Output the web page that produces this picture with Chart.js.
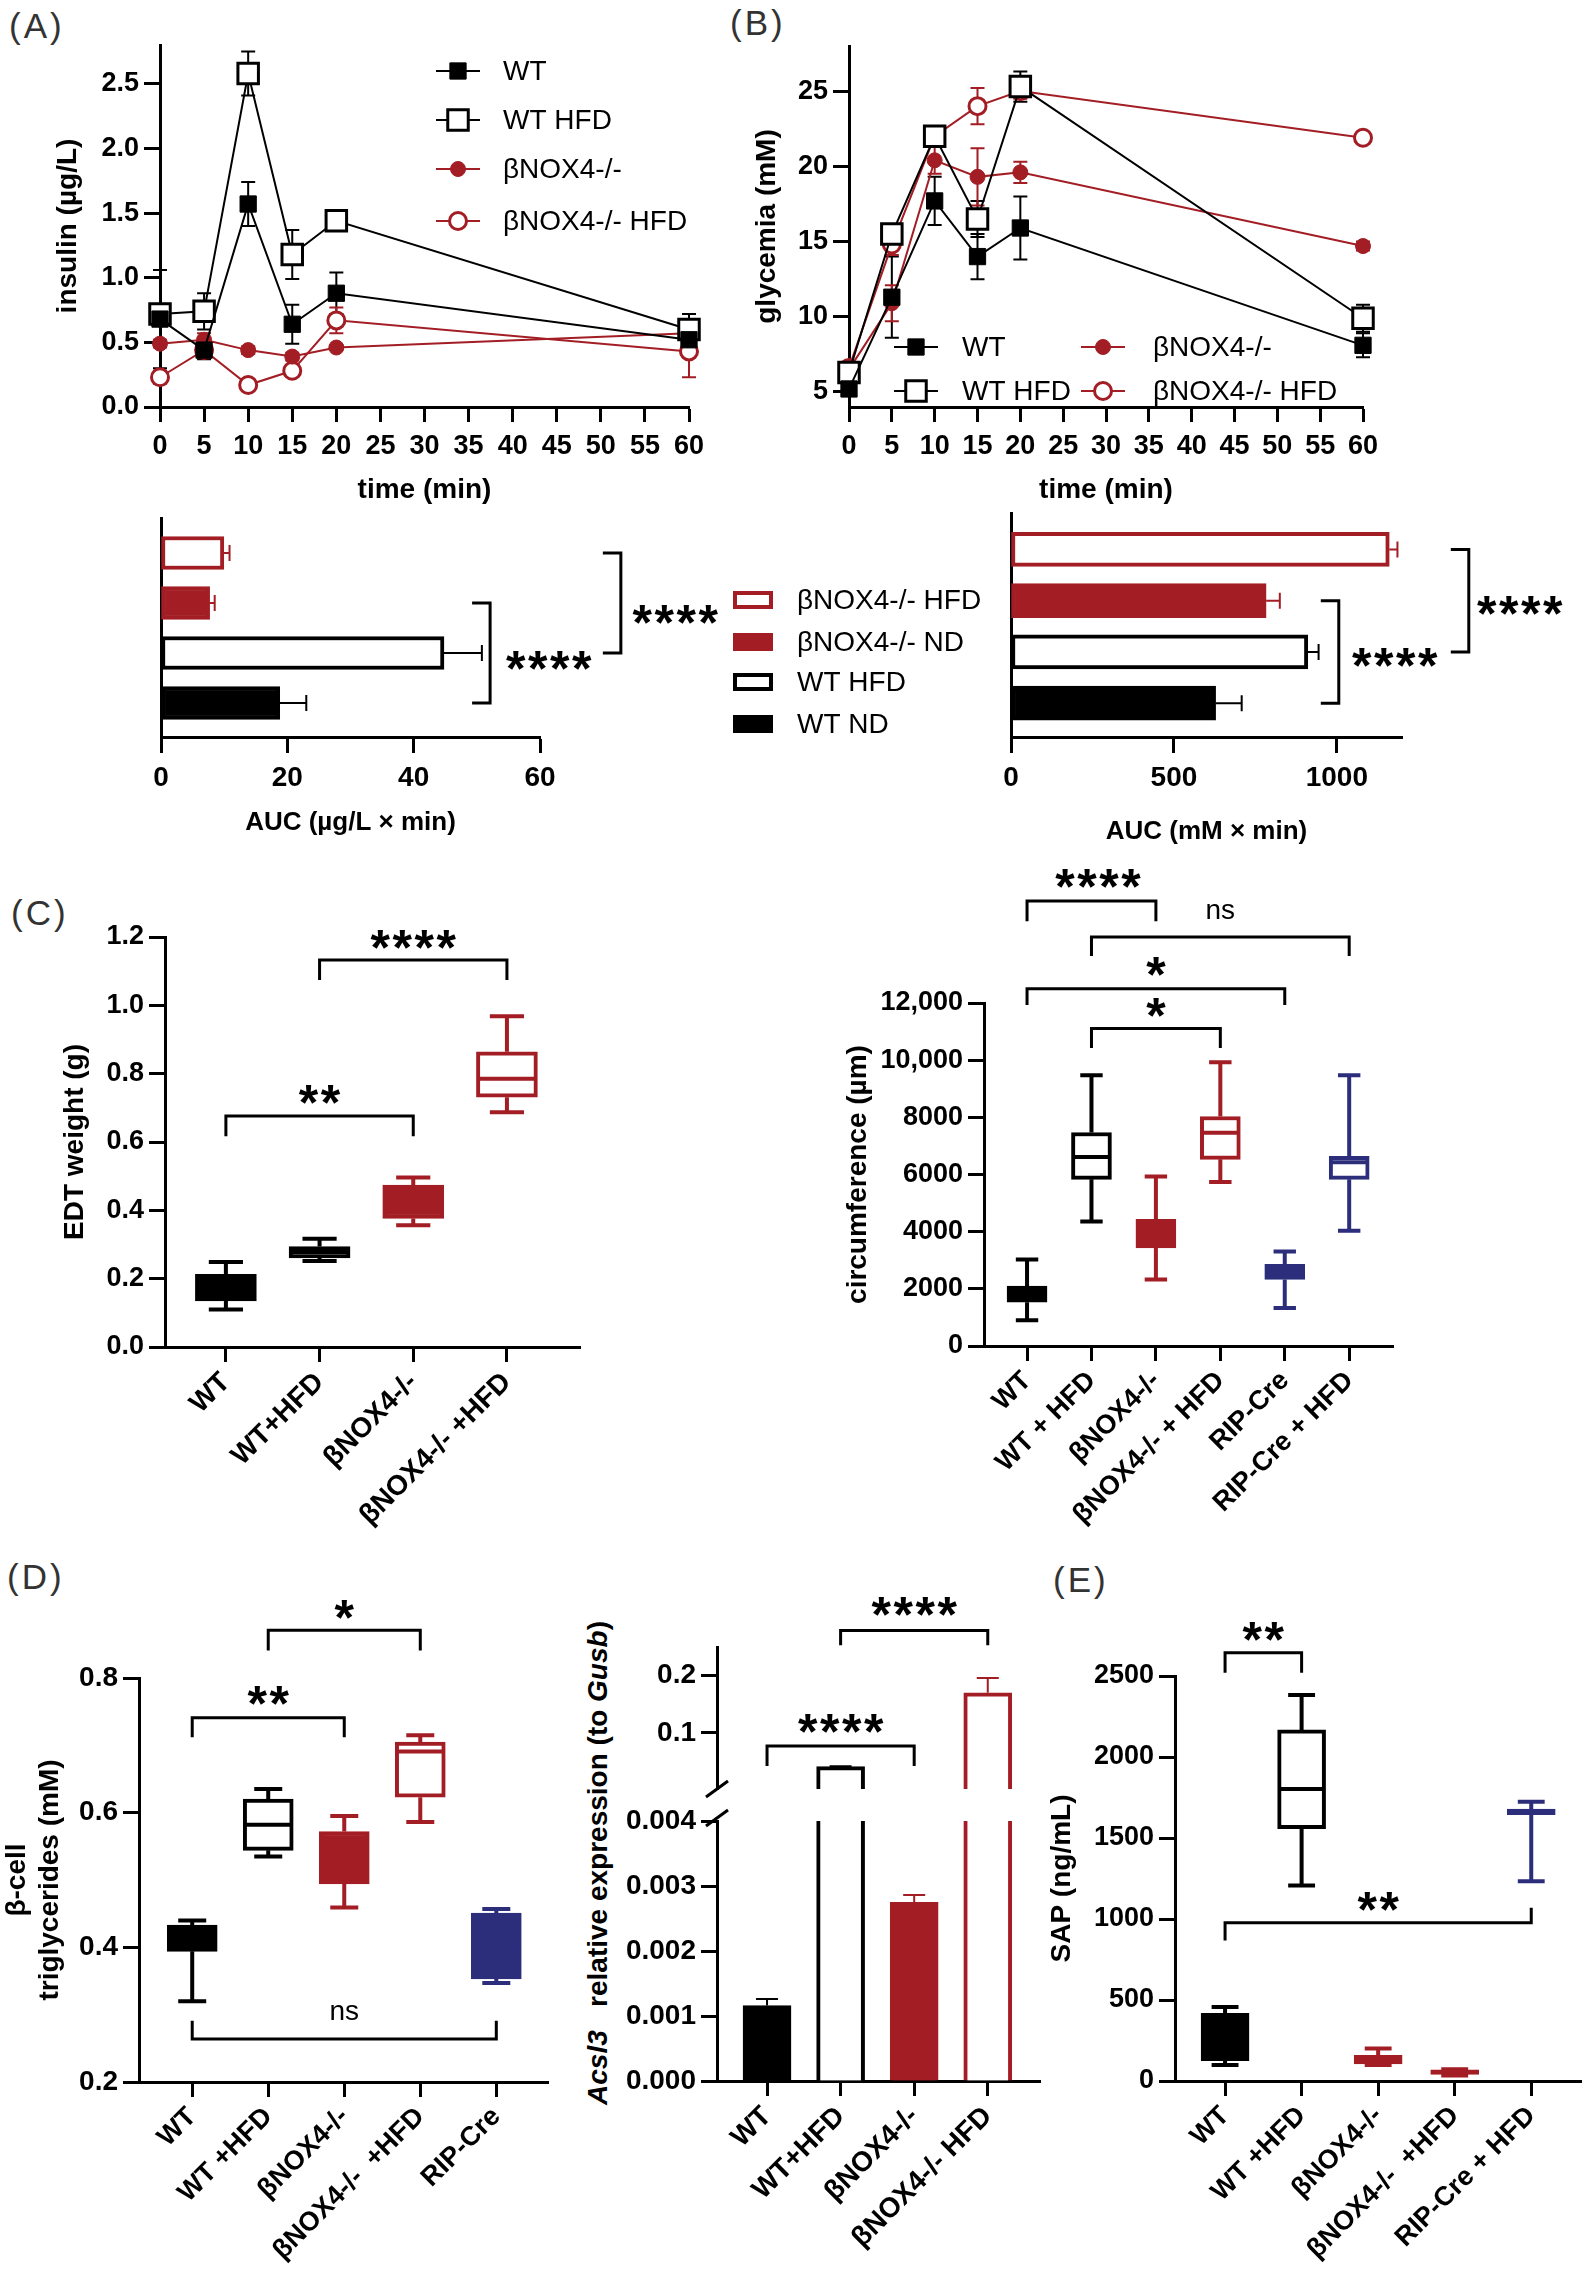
<!DOCTYPE html>
<html>
<head>
<meta charset="utf-8">
<script src="https://cdn.jsdelivr.net/npm/chart.js@4.4.1/dist/chart.umd.min.js"></script>
<style>
  html, body { margin: 0; padding: 0; background: #fff; }
  #stage { position: relative; width: 1584px; height: 2275px; overflow: hidden; font-family: 'Liberation Sans', Arial, sans-serif; }
  #stage canvas { position: absolute; }
  .panel { position: absolute; font-size: 35px; line-height: 40px; color: #333; letter-spacing: 3px; }
  .ytitle { position: absolute; font-weight: bold; font-size: 28px; white-space: nowrap; transform: translate(-50%, -50%) rotate(-90deg); }
</style>
</head>
<body>
<div id="stage">
  <div class="panel" style="left:9px;top:6px">(A)</div>
  <div class="panel" style="left:730px;top:3px">(B)</div>
  <div class="panel" style="left:11px;top:893px">(C)</div>
  <div class="panel" style="left:7px;top:1557px">(D)</div>
  <div class="panel" style="left:1053px;top:1560px">(E)</div>
  <div class="ytitle" style="left:598px;top:1863px"><i>Acsl3</i>&nbsp;&nbsp; relative expression (to <i>Gusb</i>)</div>
</div>
<script>
// ---- data ----
const timePoints = [0, 5, 10, 15, 20, 60];
const timeTicks = [0, 5, 10, 15, 20, 25, 30, 35, 40, 45, 50, 55, 60];
const lineNames = ['WT', 'WT HFD', 'βNOX4-/-', 'βNOX4-/- HFD'];

// (A) insulin (µg/L), mean and error
const insWT = [0.68, 0.44, 1.57, 0.64, 0.88, 0.52];
const insWTErr = [0.38, 0.07, 0.17, 0.15, 0.16, 0.05];
const insWTHfd = [0.72, 0.74, 2.58, 1.18, 1.44, 0.60];
const insWTHfdErr = [0.05, 0.14, 0.17, 0.19, 0.03, 0.12];
const insKO = [0.49, 0.52, 0.44, 0.39, 0.46, 0.57];
const insKOErr = [0.03, 0.05, 0.03, 0.03, 0.02, 0.04];
const insKOHfd = [0.23, 0.44, 0.17, 0.28, 0.67, 0.43];
const insKOHfdErr = [0.05, 0.05, 0.03, 0.04, 0.10, 0.20];
const insTicks = [0, 0.5, 1, 1.5, 2, 2.5];

// (B) glycemia (mM)
const gluWT = [5.2, 11.3, 17.7, 14.0, 15.9, 8.1];
const gluWTErr = [0.4, 2.7, 1.6, 1.5, 2.1, 0.8];
const gluWTHfd = [6.3, 15.5, 22.0, 16.5, 25.3, 9.9];
const gluWTHfdErr = [0.3, 0.6, 0.5, 1.2, 1.0, 0.9];
const gluKO = [6.5, 10.9, 20.4, 19.3, 19.6, 14.7];
const gluKOErr = [0.4, 1.2, 0.9, 1.9, 0.7, 0.3];
const gluKOHfd = [6.6, 14.8, 22.0, 24.0, 25.0, 21.9];
const gluKOHfdErr = [0.3, 0.7, 0.4, 1.2, 0.5, 0.3];
const gluTicks = [5, 10, 15, 20, 25];

// AUC bars (top to bottom)
const aucGroups = ['βNOX4-/- HFD', 'βNOX4-/- ND', 'WT HFD', 'WT ND'];
const insAuc = [9.95, 7.7, 44.8, 18.8];
const insAucErr = [0.9, 0.8, 6.0, 4.2];
const insAucTicks = [0, 20, 40, 60];
const gluAuc = [1161, 783, 911, 628];
const gluAucErr = [25, 42, 33, 80];
const gluAucTicks = [0, 500, 1000];

// (C) EDT weight (g): whisker min, Q1, median, Q3, whisker max
const edtGroups = ['WT', 'WT+HFD', 'βNOX4-/-', 'βNOX4-/- +HFD'];
const edtMin = [0.110, 0.252, 0.356, 0.687];
const edtQ1 = [0.135, 0.261, 0.376, 0.731];
const edtMed = [0.170, 0.278, 0.420, 0.785];
const edtQ3 = [0.213, 0.294, 0.474, 0.864];
const edtMax = [0.249, 0.317, 0.496, 0.968];
const edtTicks = [0, 0.2, 0.4, 0.6, 0.8, 1.0, 1.2];

// (C) circumference (µm)
const circGroups = ['WT', 'WT + HFD', 'βNOX4-/-', 'βNOX4-/- + HFD', 'RIP-Cre', 'RIP-Cre + HFD'];
const circMin = [900, 4360, 2330, 5740, 1330, 4030];
const circQ1 = [1530, 5830, 3430, 6530, 2330, 5830];
const circMed = [1800, 6610, 3800, 7460, 2600, 6430];
const circQ3 = [2100, 7470, 4430, 8030, 2860, 6640];
const circMax = [3030, 9470, 5930, 9930, 3310, 9470];
const circTicks = [0, 2000, 4000, 6000, 8000, 10000, 12000];
const circTickLabels = ['0', '2000', '4000', '6000', '8000', '10,000', '12,000'];

// (D) beta-cell triglycerides (mM)
const tgGroups = ['WT', 'WT +HFD', 'βNOX4-/-', 'βNOX4-/-  +HFD', 'RIP-Cre'];
const tgMin = [0.320, 0.535, 0.459, 0.586, 0.347];
const tgQ1 = [0.394, 0.544, 0.494, 0.623, 0.353];
const tgMed = [0.410, 0.582, 0.530, 0.691, 0.400];
const tgQ3 = [0.433, 0.620, 0.572, 0.705, 0.451];
const tgMax = [0.440, 0.635, 0.595, 0.715, 0.457];
const tgTicks = [0.2, 0.4, 0.6, 0.8];

// (D) Acsl3 expression
const acslGroups = ['WT', 'WT+HFD', 'βNOX4-/-', 'βNOX4-/- HFD'];
const acslMean = [0.00116, 0.041, 0.00275, 0.170];
const acslErr = [0.0001, 0.0008, 0.00011, 0.026];
const acslLowTicks = [0, 0.001, 0.002, 0.003, 0.004];
const acslHighTicks = [0.1, 0.2];

// (E) SAP (ng/mL)
const sapGroups = ['WT', 'WT +HFD', 'βNOX4-/-', 'βNOX4-/-  +HFD', 'RIP-Cre + HFD'];
const sapMin = [98, 1207, 98, 34, 1233];
const sapQ1 = [126, 1557, 106, 40, 1644];
const sapMed = [250, 1802, 140, 55, 1658];
const sapQ3 = [417, 2167, 158, 69, 1678];
const sapMax = [457, 2382, 201, 72, 1724];
const sapTicks = [0, 500, 1000, 1500, 2000, 2500];

// significance marks
const insAucSig = [{ a: 1, b: 3, x: 52.1, text: '****', tx: 61.4, ty: 2.1 }, { a: 0, b: 2, x: 72.8, text: '****', tx: 81.4, ty: 1.18 }];
const gluAucSig = [{ a: 1, b: 3, x: 1006, text: '****', tx: 1178, ty: 2.06 }, { a: 0, b: 2, x: 1405, text: '****', tx: 1561, ty: 1.04 }];
const edtSig = [{ a: 0, b: 2, y: 0.676, endA: 0.617, text: '**', ty: 0.746 }, { a: 1, b: 3, y: 1.133, endA: 1.074, text: '****', ty: 1.2 }];
const circSig = [
  { a: 0, b: 2, y: 15570, endA: 14860, text: '****', ty: 16430, tx: 1.1 },
  { a: 1, b: 5, y: 14310, endA: 13640, text: 'ns', ty: 15210 },
  { a: 0, b: 4, y: 12500, endA: 11930, text: '*', ty: 13360 },
  { a: 1, b: 3, y: 11110, endA: 10430, text: '*', ty: 11930 }
];
const tgSig = [
  { a: 0, b: 2, y: 0.741, endA: 0.712, text: '**', ty: 0.777 },
  { a: 1, b: 3, y: 0.871, endA: 0.841, text: '*', ty: 0.905 },
  { a: 0, b: 4, y: 0.264, endA: 0.291, text: 'ns', ty: 0.303 }
];
const acslSig = [{ a: 0, b: 2, y: 0.0772, endA: 0.042, text: '****', ty: 0.121 }, { a: 1, b: 3, y: 0.279, endA: 0.253, text: '****', ty: 0.325 }];
const sapSig = [{ a: 0, b: 1, y: 2644, endA: 2520, text: '**', ty: 2793 }, { a: 0, b: 4, y: 977, endA: 868, endB: 1069, text: '**', ty: 1126 }];

// ---- styles ----
const BLACK = '#000000', RED = '#a31d24', BLUE = '#2c2e7c', WHITE = '#ffffff';
const FONT = "'Liberation Sans', Arial, Helvetica, sans-serif";
const BORDER = { display: true, width: 3, color: BLACK };

Chart.defaults.font.family = FONT;
Chart.defaults.color = BLACK;
Chart.defaults.animation = false;
Chart.defaults.events = [];
Chart.defaults.plugins.legend.display = false;
Chart.defaults.plugins.tooltip.enabled = false;

const stage = document.getElementById('stage');

function addCanvas(box) {
  const c = document.createElement('canvas');
  c.width = box[2] - box[0];
  c.height = box[3] - box[1];
  c.style.left = box[0] + 'px';
  c.style.top = box[1] + 'px';
  stage.appendChild(c);
  return c;
}

function pad(box, area, bottom) {
  return { left: 0, top: area[1] - box[1], right: box[2] - area[2], bottom: bottom || 0 };
}

function tickGrid(len) {
  return { display: true, drawOnChartArea: false, drawTicks: true, tickLength: len, tickWidth: 3, tickColor: BLACK, offset: false };
}

function fixedTicks(values) {
  return s => { s.ticks = values.map(v => ({ value: v })); };
}

function yValue(o) {
  return {
    type: 'linear', min: o.min, max: o.max, offset: false,
    afterBuildTicks: fixedTicks(o.ticks),
    afterFit: s => { s.width = o.area[0] - o.box[0]; },
    ticks: { callback: (v, i) => o.labels[i], font: { size: o.font || 27, weight: 'bold' }, padding: 5, autoSkip: false },
    grid: tickGrid(16), border: BORDER,
    title: o.title
      ? { display: true, text: o.title, font: { size: o.titleSize || 28, weight: 'bold' }, padding: { top: o.titlePad, bottom: 0 } }
      : { display: false }
  };
}

function xValue(o) {
  return {
    type: 'linear', min: o.min, max: o.max, offset: false,
    afterBuildTicks: fixedTicks(o.ticks),
    afterFit: s => { s.height = o.box[3] - o.area[3]; },
    ticks: { callback: (v, i) => o.labels[i], font: { size: o.font || 27, weight: 'bold' }, padding: 8, autoSkip: false, maxRotation: 0, minRotation: 0 },
    grid: tickGrid(o.tick || 15), border: BORDER,
    title: { display: true, text: o.title, font: { size: o.titleSize || 28, weight: 'bold' }, padding: { top: 0, bottom: o.titlePad } }
  };
}

function xGroups(groups, range, box, area, size) {
  return {
    type: 'linear', min: range[0], max: range[1], offset: false,
    afterBuildTicks: fixedTicks(groups.map((g, i) => i)),
    afterFit: s => { s.height = box[3] - area[3]; },
    ticks: { callback: v => groups[v], autoSkip: false, minRotation: 45, maxRotation: 45, padding: 4, font: { size: size || 28, weight: 'bold' } },
    grid: tickGrid(15), border: BORDER
  };
}

function fix(d) { return v => v.toFixed(d); }

// ---- plugins ----
const errorBars = {
  id: 'errorBars',
  beforeDatasetsDraw(chart) {
    const ctx = chart.ctx, area = chart.chartArea;
    ctx.save();
    ctx.beginPath();
    ctx.rect(area.left - 40, area.top - 1, area.right - area.left + 400, area.bottom - area.top + 2);
    ctx.clip();
    chart.data.datasets.forEach((ds, di) => {
      if (!ds.errors) return;
      const meta = chart.getDatasetMeta(di);
      const vs = meta.vScale, horiz = vs.isHorizontal();
      meta.data.forEach((el, i) => {
        const p = meta.controller.getParsed(i);
        const v = p[vs.axis], e = ds.errors[i];
        if (v == null || isNaN(v) || e == null) return;
        const a = vs.getPixelForValue(ds.errorUp ? v : v - e), b = vs.getPixelForValue(v + e);
        const c = horiz ? el.y : el.x, w = ds.errorCap || 7;
        ctx.strokeStyle = Array.isArray(ds.borderColor) ? ds.borderColor[i] : ds.borderColor;
        ctx.lineWidth = 2;
        ctx.beginPath();
        if (horiz) {
          ctx.moveTo(a, c); ctx.lineTo(b, c);
          ctx.moveTo(b, c - w); ctx.lineTo(b, c + w);
        } else {
          ctx.moveTo(c, a); ctx.lineTo(c, b);
          ctx.moveTo(c - w, b); ctx.lineTo(c + w, b);
          if (!ds.errorUp) { ctx.moveTo(c - w, a); ctx.lineTo(c + w, a); }
        }
        ctx.stroke();
      });
    });
    ctx.restore();
  }
};

const whiskers = {
  id: 'whiskers',
  afterDatasetsDraw(chart) {
    const ctx = chart.ctx, ys = chart.scales.y;
    chart.data.datasets.forEach((ds, di) => {
      if (!ds.median) return;
      const meta = chart.getDatasetMeta(di);
      meta.data.forEach((el, i) => {
        const x = el.x, half = el.width / 2, cap = el.width * 0.28;
        const pMin = ys.getPixelForValue(ds.whiskerMin[i]), pMax = ys.getPixelForValue(ds.whiskerMax[i]);
        const pQ1 = ys.getPixelForValue(ds.data[i].y[0]), pQ3 = ys.getPixelForValue(ds.data[i].y[1]);
        const pMed = ys.getPixelForValue(ds.median[i]);
        ctx.save();
        ctx.strokeStyle = ds.borderColor[i];
        ctx.lineWidth = 4;
        ctx.beginPath();
        ctx.moveTo(x, pQ3); ctx.lineTo(x, pMax);
        ctx.moveTo(x - cap, pMax); ctx.lineTo(x + cap, pMax);
        ctx.moveTo(x, pQ1); ctx.lineTo(x, pMin);
        ctx.moveTo(x - cap, pMin); ctx.lineTo(x + cap, pMin);
        ctx.moveTo(x - half + 2, pMed); ctx.lineTo(x + half - 2, pMed);
        ctx.stroke();
        ctx.restore();
      });
    });
  }
};

function drawSig(ctx, text, cx, cy) {
  ctx.save();
  ctx.fillStyle = BLACK;
  ctx.textAlign = 'center';
  if (text[0] === '*') {
    ctx.font = 'bold 50px ' + FONT;
    ctx.textBaseline = 'alphabetic';
    const n = text.length, step = 22;
    for (let k = 0; k < n; k++) ctx.fillText('*', cx + (k - (n - 1) / 2) * step, cy + 28);
  } else {
    ctx.font = '28px ' + FONT;
    ctx.textBaseline = 'middle';
    ctx.fillText(text, cx, cy);
  }
  ctx.restore();
}

// brackets: vertical charts use a/b as group index, horizontal ones as bar index
function brackets(items, horizontal) {
  return {
    id: 'brackets',
    afterDraw(chart) {
      const ctx = chart.ctx, xs = chart.scales.x, ys = chart.scales.y;
      ctx.save();
      ctx.strokeStyle = BLACK;
      ctx.lineWidth = 3;
      items.forEach(b => {
        ctx.beginPath();
        if (horizontal) {
          const x = xs.getPixelForValue(b.x), y1 = ys.getPixelForValue(b.a), y2 = ys.getPixelForValue(b.b);
          ctx.moveTo(x - 18, y1); ctx.lineTo(x, y1); ctx.lineTo(x, y2); ctx.lineTo(x - 18, y2);
          ctx.stroke();
          drawSig(ctx, b.text, xs.getPixelForValue(b.tx), ys.getPixelForValue(b.ty));
        } else {
          const x1 = xs.getPixelForValue(b.a), x2 = xs.getPixelForValue(b.b), y = ys.getPixelForValue(b.y);
          ctx.moveTo(x1, ys.getPixelForValue(b.endA));
          ctx.lineTo(x1, y); ctx.lineTo(x2, y);
          ctx.lineTo(x2, ys.getPixelForValue(b.endB != null ? b.endB : b.endA));
          ctx.stroke();
          const tx = b.tx != null ? b.tx : (b.a + b.b) / 2;
          drawSig(ctx, b.text, xs.getPixelForValue(tx), ys.getPixelForValue(b.ty));
        }
      });
      ctx.restore();
    }
  };
}

function drawMarker(ctx, ds, x, y) {
  const r = ds.pointRadius;
  ctx.beginPath();
  if (ds.pointStyle === 'rect') {
    const h = Math.SQRT1_2 * r;
    ctx.rect(x - h, y - h, 2 * h, 2 * h);
  } else {
    ctx.arc(x, y, r, 0, Math.PI * 2);
  }
  ctx.fillStyle = ds.pointBackgroundColor;
  ctx.fill();
  ctx.lineWidth = ds.pointBorderWidth;
  ctx.strokeStyle = ds.pointBorderColor;
  ctx.stroke();
}

// spots in page coordinates: [marker x, marker y, text x]
function lineLegend(box, spots) {
  return {
    id: 'lineLegend',
    afterDraw(chart) {
      const ctx = chart.ctx;
      chart.data.datasets.forEach((ds, i) => {
        const x = spots[i][0] - box[0], y = spots[i][1] - box[1];
        ctx.save();
        ctx.strokeStyle = ds.borderColor;
        ctx.lineWidth = 2;
        ctx.beginPath(); ctx.moveTo(x - 22, y); ctx.lineTo(x + 22, y); ctx.stroke();
        drawMarker(ctx, ds, x, y);
        ctx.fillStyle = BLACK;
        ctx.font = '28px ' + FONT;
        ctx.textBaseline = 'middle';
        ctx.textAlign = 'left';
        ctx.fillText(ds.label, spots[i][2] - box[0], y + 1);
        ctx.restore();
      });
    }
  };
}

function aucLegend(box, rows) {
  return {
    id: 'aucLegend',
    afterDraw(chart) {
      const ctx = chart.ctx, ds = chart.data.datasets[0];
      aucGroups.forEach((g, i) => {
        const x = 733 - box[0], y = rows[i] - box[1];
        ctx.save();
        ctx.fillStyle = ds.borderColor[i];
        ctx.fillRect(x, y - 9, 40, 18);
        if (ds.backgroundColor[i] === WHITE) {
          ctx.fillStyle = WHITE;
          ctx.fillRect(x + 4, y - 5, 32, 10);
        }
        ctx.fillStyle = BLACK;
        ctx.font = '28px ' + FONT;
        ctx.textBaseline = 'middle';
        ctx.fillText(g, 797 - box[0], y + 1);
        ctx.restore();
      });
    }
  };
}

function series(label, values, errs, color, style, filled) {
  const sq = style === 'rect';
  return {
    label: label,
    data: timePoints.map((t, i) => ({ x: t, y: values[i] })),
    errors: errs,
    clip: false,
    borderColor: color, borderWidth: 2,
    pointStyle: style,
    pointRadius: sq ? (filled ? 11.5 : 14.5) : (filled ? 7.5 : 8.5),
    pointBorderWidth: filled ? 1 : 3,
    pointBackgroundColor: filled ? color : WHITE,
    pointBorderColor: color,
    fill: false, tension: 0
  };
}

function boxSet(groups, mins, q1, med, q3, maxs, fills, lines, width) {
  return {
    data: groups.map((g, i) => ({ x: i, y: [q1[i], q3[i]] })),
    whiskerMin: mins, whiskerMax: maxs, median: med,
    backgroundColor: fills, borderColor: lines,
    borderWidth: 4, borderSkipped: false, barThickness: width
  };
}

// ---- (A) insulin time course ----
const boxA = [20, 20, 760, 520], areaA = [160, 45, 689, 407];
new Chart(addCanvas(boxA), {
  type: 'line',
  data: { datasets: [
    series(lineNames[0], insWT, insWTErr, BLACK, 'rect', true),
    series(lineNames[1], insWTHfd, insWTHfdErr, BLACK, 'rect', false),
    series(lineNames[2], insKO, insKOErr, RED, 'circle', true),
    series(lineNames[3], insKOHfd, insKOHfdErr, RED, 'circle', false)
  ] },
  options: {
    responsive: false,
    layout: { padding: pad(boxA, areaA) },
    scales: {
      x: xValue({ min: 0, max: 60, ticks: timeTicks, labels: timeTicks.map(String), box: boxA, area: areaA, title: 'time (min)', titlePad: 13 }),
      y: yValue({ min: 0, max: 2.8, ticks: insTicks, labels: insTicks.map(fix(1)), box: boxA, area: areaA, font: 27, title: 'insulin (µg/L)', titlePad: 31 })
    }
  },
  plugins: [errorBars, lineLegend(boxA, [[458, 71, 503], [458, 120, 503], [458, 169, 503], [458, 221, 503]])]
});

// ---- (B) glycemia time course ----
const boxB = [720, 20, 1440, 520], areaB = [849, 46, 1363, 407];
new Chart(addCanvas(boxB), {
  type: 'line',
  data: { datasets: [
    series(lineNames[0], gluWT, gluWTErr, BLACK, 'rect', true),
    series(lineNames[1], gluWTHfd, gluWTHfdErr, BLACK, 'rect', false),
    series(lineNames[2], gluKO, gluKOErr, RED, 'circle', true),
    series(lineNames[3], gluKOHfd, gluKOHfdErr, RED, 'circle', false)
  ] },
  options: {
    responsive: false,
    layout: { padding: pad(boxB, areaB) },
    scales: {
      x: xValue({ min: 0, max: 60, ticks: timeTicks, labels: timeTicks.map(String), box: boxB, area: areaB, title: 'time (min)', titlePad: 13 }),
      y: yValue({ min: 4, max: 28, ticks: gluTicks, labels: gluTicks.map(String), box: boxB, area: areaB, font: 27, title: 'glycemia (mM)', titlePad: 30 })
    }
  },
  plugins: [errorBars, lineLegend(boxB, [[916, 347, 962], [916, 391, 962], [1103, 347, 1153], [1103, 391, 1153]])]
});

// ---- AUC bars ----
const aucFill = [WHITE, RED, WHITE, BLACK];
const aucLine = [RED, RED, BLACK, BLACK];

const boxIA = [20, 490, 980, 870], areaIA = [161, 518, 540, 737];
new Chart(addCanvas(boxIA), {
  type: 'bar',
  data: { datasets: [{
    data: insAuc.map((v, i) => ({ x: v, y: i })),
    errors: insAucErr, errorUp: true, errorCap: 8,
    backgroundColor: aucFill, borderColor: aucLine, borderWidth: 4, borderSkipped: false, barThickness: 33
  }] },
  options: {
    indexAxis: 'y', responsive: false,
    layout: { padding: pad(boxIA, areaIA) },
    scales: {
      x: xValue({ min: 0, max: 60, ticks: insAucTicks, labels: insAucTicks.map(String), box: boxIA, area: areaIA, tick: 16, font: 28, title: 'AUC (µg/L × min)', titleSize: 26, titlePad: 32 }),
      y: { type: 'linear', reverse: true, offset: false, min: -0.7, max: 3.68, afterFit: s => { s.width = areaIA[0] - boxIA[0]; },
           ticks: { display: false }, grid: { display: false, offset: false }, border: BORDER }
    }
  },
  plugins: [errorBars, brackets(insAucSig, true), aucLegend(boxIA, [600, 642, 682, 724])]
});

const boxGA = [985, 490, 1584, 870], areaGA = [1011, 513, 1402, 737];
new Chart(addCanvas(boxGA), {
  type: 'bar',
  data: { datasets: [{
    data: gluAuc.map((v, i) => ({ x: v, y: i })),
    errors: gluAucErr, errorUp: true, errorCap: 8,
    backgroundColor: aucFill, borderColor: aucLine, borderWidth: 4, borderSkipped: false, barThickness: 34
  }] },
  options: {
    indexAxis: 'y', responsive: false,
    layout: { padding: pad(boxGA, areaGA) },
    scales: {
      x: xValue({ min: 0, max: 1200, ticks: gluAucTicks, labels: gluAucTicks.map(String), box: boxGA, area: areaGA, tick: 16, font: 28, title: 'AUC (mM × min)', titleSize: 26, titlePad: 23 }),
      y: { type: 'linear', reverse: true, offset: false, min: -0.71, max: 3.66, afterFit: s => { s.width = areaGA[0] - boxGA[0]; },
           ticks: { display: false }, grid: { display: false, offset: false }, border: BORDER }
    }
  },
  plugins: [errorBars, brackets(gluAucSig, true)]
});

// ---- (C) EDT weight ----
const boxCL = [0, 880, 600, 1540], areaCL = [165, 937, 580, 1347];
new Chart(addCanvas(boxCL), {
  type: 'bar',
  data: { datasets: [boxSet(edtGroups, edtMin, edtQ1, edtMed, edtQ3, edtMax,
    [BLACK, WHITE, RED, WHITE], [BLACK, BLACK, RED, RED], 61)] },
  options: {
    responsive: false,
    layout: { padding: pad(boxCL, areaCL) },
    scales: {
      x: xGroups(edtGroups, [-0.65, 3.78], boxCL, areaCL, 28),
      y: yValue({ min: 0, max: 1.2, ticks: edtTicks, labels: edtTicks.map(fix(1)), box: boxCL, area: areaCL, font: 27, title: 'EDT weight (g)', titlePad: 58 })
    }
  },
  plugins: [whiskers, brackets(edtSig, false)]
});

// ---- (C) circumference ----
const boxCR = [840, 840, 1584, 1540], areaCR = [984, 1003, 1393, 1346];
new Chart(addCanvas(boxCR), {
  type: 'bar',
  data: { datasets: [boxSet(circGroups, circMin, circQ1, circMed, circQ3, circMax,
    [BLACK, WHITE, RED, WHITE, BLUE, WHITE], [BLACK, BLACK, RED, RED, BLUE, BLUE], 40)] },
  options: {
    responsive: false,
    layout: { padding: pad(boxCR, areaCR) },
    scales: {
      x: xGroups(circGroups, [-0.668, 5.68], boxCR, areaCR, 27),
      y: yValue({ min: 0, max: 12000, ticks: circTicks, labels: circTickLabels, box: boxCR, area: areaCR, font: 27, title: 'circumference (µm)', titlePad: 1 })
    }
  },
  plugins: [whiskers, brackets(circSig, false)]
});

// ---- (D) triglycerides ----
const boxDL = [0, 1540, 560, 2275], areaDL = [139, 1678, 548, 2082];
new Chart(addCanvas(boxDL), {
  type: 'bar',
  data: { datasets: [boxSet(tgGroups, tgMin, tgQ1, tgMed, tgQ3, tgMax,
    [BLACK, WHITE, RED, WHITE, BLUE], [BLACK, BLACK, RED, RED, BLUE], 50)] },
  options: {
    responsive: false,
    layout: { padding: pad(boxDL, areaDL) },
    scales: {
      x: xGroups(tgGroups, [-0.70, 4.68], boxDL, areaDL, 27),
      y: yValue({ min: 0.2, max: 0.8, ticks: tgTicks, labels: tgTicks.map(fix(1)), box: boxDL, area: areaDL, font: 28, title: ['β-cell', 'triglycerides (mM)'], titlePad: 0 })
    }
  },
  plugins: [whiskers, brackets(tgSig, false)]
});

// ---- (D) Acsl3, broken axis: upper and lower segment ----
const acslRange = [-0.68, 3.71];
const acslFill = [BLACK, WHITE, RED, WHITE];
const acslLine = [BLACK, BLACK, RED, RED];
const acslLowMax = 0.004;

const boxDU = [560, 1570, 1060, 1840], areaDU = [717, 1647, 1040, 1789];
new Chart(addCanvas(boxDU), {
  type: 'bar',
  data: { datasets: [{
    data: acslMean.map((v, i) => ({ x: i, y: v > acslLowMax ? v : null })),
    errors: acslErr, errorUp: true, errorCap: 11, clip: 0,
    backgroundColor: acslFill, borderColor: acslLine, borderWidth: 4, barThickness: 48
  }] },
  options: {
    responsive: false,
    layout: { padding: pad(boxDU, areaDU, boxDU[3] - areaDU[3]) },
    scales: {
      x: { type: 'linear', display: false, offset: false, min: acslRange[0], max: acslRange[1] },
      y: yValue({ min: 0.002, max: 0.25, ticks: acslHighTicks, labels: acslHighTicks.map(fix(1)), box: boxDU, area: areaDU, font: 28 })
    }
  },
  plugins: [errorBars, brackets(acslSig, false), {
    id: 'axisBreak',
    afterDraw(chart) {
      const ctx = chart.ctx, ox = boxDU[0], oy = boxDU[1];
      ctx.save();
      ctx.strokeStyle = BLACK;
      ctx.lineWidth = 3;
      ctx.beginPath();
      ctx.moveTo(706 - ox, 1797 - oy); ctx.lineTo(728 - ox, 1781 - oy);
      ctx.moveTo(706 - ox, 1826 - oy); ctx.lineTo(728 - ox, 1810 - oy);
      ctx.stroke();
      ctx.restore();
    }
  }]
});

const boxDM = [560, 1795, 1060, 2275], areaDM = [717, 1821, 1040, 2081];
new Chart(addCanvas(boxDM), {
  type: 'bar',
  data: { datasets: [{
    data: acslMean.map((v, i) => ({ x: i, y: v })),
    errors: acslErr, errorUp: true, errorCap: 11, clip: 0,
    backgroundColor: acslFill, borderColor: acslLine, borderWidth: 4, barThickness: 48
  }] },
  options: {
    responsive: false,
    layout: { padding: pad(boxDM, areaDM) },
    scales: {
      x: xGroups(acslGroups, acslRange, boxDM, areaDM, 28),
      y: yValue({ min: 0, max: acslLowMax, ticks: acslLowTicks, labels: acslLowTicks.map(fix(3)), box: boxDM, area: areaDM, font: 28 })
    }
  },
  plugins: [errorBars]
});

// ---- (E) SAP ----
const boxE = [1030, 1540, 1584, 2275], areaE = [1175, 1676, 1581, 2081];
new Chart(addCanvas(boxE), {
  type: 'bar',
  data: { datasets: [boxSet(sapGroups, sapMin, sapQ1, sapMed, sapQ3, sapMax,
    [BLACK, WHITE, RED, RED, WHITE], [BLACK, BLACK, RED, RED, BLUE], 48)] },
  options: {
    responsive: false,
    layout: { padding: pad(boxE, areaE) },
    scales: {
      x: xGroups(sapGroups, [-0.654, 4.65], boxE, areaE, 27),
      y: yValue({ min: 0, max: 2500, ticks: sapTicks, labels: sapTicks.map(String), box: boxE, area: areaE, font: 27, title: 'SAP (ng/mL)', titlePad: 15 })
    }
  },
  plugins: [whiskers, brackets(sapSig, false)]
});
</script>
</body>
</html>
